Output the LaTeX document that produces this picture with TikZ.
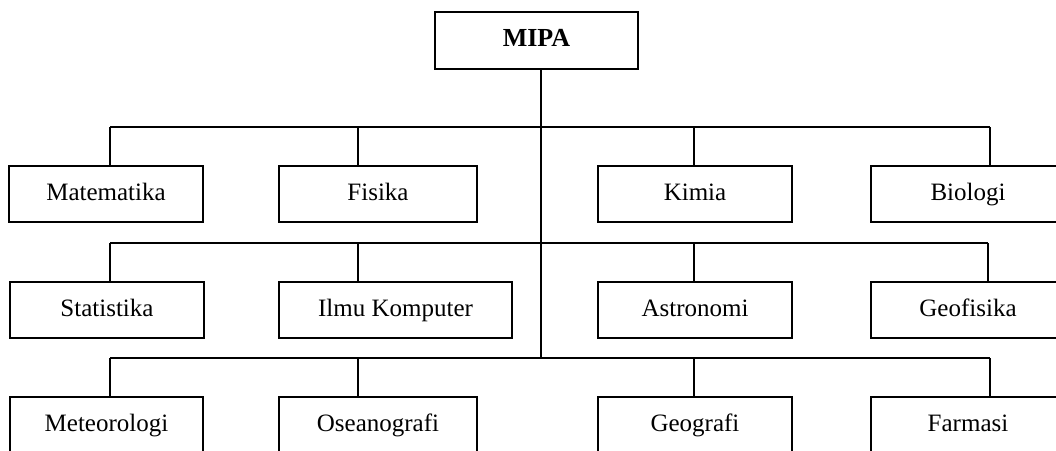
\documentclass[tikz,border=0pt]{standalone}
\usepackage{fontspec}
\setmainfont{Liberation Serif}
\begin{document}
\begin{tikzpicture}[x=1pt,y=-1pt,
  box/.style={draw,line width=1.5pt,rectangle,inner sep=0pt,minimum height=56pt,
    text height=17pt,text depth=5pt,
    font=\fontsize{25}{30}\selectfont},
  conn/.style={line width=1.5pt}]
\useasboundingbox (0,0) rectangle (1056,450);
\clip (0,0) rectangle (1056,450);
\node[box,minimum width=203pt,minimum height=57pt,font=\fontsize{26}{30}\selectfont\bfseries] (mipa) at (536.5,40.5) {MIPA};
% row 1
\node[box,minimum width=194pt] (mat) at (106,194) {Matematika};
\node[box,minimum width=198pt] (fis) at (378,194) {Fisika};
\node[box,minimum width=194pt] (kim) at (695,194) {Kimia};
\node[box,minimum width=194pt] (bio) at (968,194) {Biologi};
% row 2
\node[box,minimum width=194pt] (sta) at (107,310) {Statistika};
\node[box,minimum width=233pt] (ilk) at (395.5,310) {Ilmu Komputer};
\node[box,minimum width=194pt] (ast) at (695,310) {Astronomi};
\node[box,minimum width=194pt] (geo) at (968,310) {Geofisika};
% row 3
\node[box,minimum width=193pt] (met) at (106.5,425) {Meteorologi};
\node[box,minimum width=198pt] (ose) at (378,425) {Oseanografi};
\node[box,minimum width=194pt] (gga) at (695,425) {Geografi};
\node[box,minimum width=194pt] (far) at (968,425) {Farmasi};
% bus coordinates
\coordinate (sp) at (541,0);
\coordinate (a1) at (110,127); \coordinate (b1) at (358,127);
\coordinate (c1) at (694,127); \coordinate (d1) at (990,127);
\coordinate (a2) at (110,243); \coordinate (b2) at (358,243);
\coordinate (c2) at (694,243); \coordinate (d2) at (988,243);
\coordinate (a3) at (110,358); \coordinate (b3) at (358,358);
\coordinate (c3) at (694,358); \coordinate (d3) at (990,358);
% spine
\draw[conn] (mipa.south -| sp) -- (sp |- a3);
% buses
\draw[conn] (a1) -- (d1);
\draw[conn] (a2) -- (d2);
\draw[conn] (a3) -- (d3);
% drops
\draw[conn] (a1) -- (a1 |- mat.north);
\draw[conn] (b1) -- (b1 |- fis.north);
\draw[conn] (c1) -- (c1 |- kim.north);
\draw[conn] (d1) -- (d1 |- bio.north);
\draw[conn] (a2) -- (a2 |- sta.north);
\draw[conn] (b2) -- (b2 |- ilk.north);
\draw[conn] (c2) -- (c2 |- ast.north);
\draw[conn] (d2) -- (d2 |- geo.north);
\draw[conn] (a3) -- (a3 |- met.north);
\draw[conn] (b3) -- (b3 |- ose.north);
\draw[conn] (c3) -- (c3 |- gga.north);
\draw[conn] (d3) -- (d3 |- far.north);
\end{tikzpicture}
\end{document}
